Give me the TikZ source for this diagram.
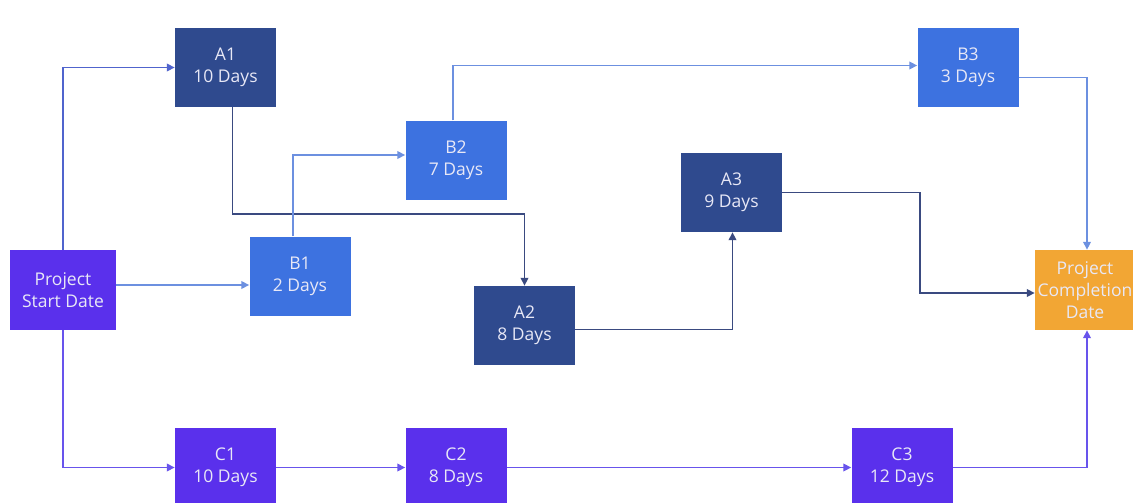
\documentclass[tikz,border=0pt]{standalone}
\usepackage{fontspec}
\setmainfont{Open Sans}
\usetikzlibrary{arrows.meta,calc}

\definecolor{navy}{RGB}{47,74,142}
\definecolor{skyblue}{RGB}{61,114,224}
\definecolor{violet}{RGB}{90,48,236}
\definecolor{amber}{RGB}{242,166,52}
\definecolor{lnnavy}{RGB}{58,74,128}
\definecolor{lnblue}{RGB}{108,144,224}
\definecolor{lnviolet}{RGB}{104,84,236}
\definecolor{lnmid}{RGB}{80,100,205}
\definecolor{boxtext}{RGB}{232,232,246}

\tikzset{
  task/.style={minimum width=101pt, minimum height=79pt, inner sep=0pt,
    text=boxtext, align=center, font=\fontsize{17.5}{22}\selectfont},
  link/.style={line width=1.8pt, -{Triangle[length=8pt,width=7.5pt]}},
}

\begin{document}
\begin{tikzpicture}[x=1pt, y=-1pt]
  \useasboundingbox (0,0) rectangle (1133,503);
  \fill[white] (0,0) rectangle (1133,503);

  % activity boxes
  \node[task, fill=violet, minimum width=106pt, minimum height=80pt] (start) at (63,290) {Project\\Start Date};
  \node[task, fill=navy] (A1) at (225.5,67.5) {A1\\10 Days};
  \node[task, fill=skyblue] (B1) at (300,276) {B1\\2 Days};
  \node[task, fill=skyblue] (B2) at (456,160) {B2\\7 Days};
  \node[task, fill=navy] (A2) at (524.5,325.5) {A2\\8 Days};
  \node[task, fill=navy] (A3) at (731.5,192.5) {A3\\9 Days};
  \node[task, fill=skyblue] (B3) at (968,67.5) {B3\\3 Days};
  \node[task, fill=amber, minimum width=100pt, minimum height=80pt, text width=100pt] (end) at (1085,290) {Project\\Completion\\Date};
  \node[task, fill=violet] (C1) at (225.5,467.5) {C1\\10 Days};
  \node[task, fill=violet] (C2) at (456,467.5) {C2\\8 Days};
  \node[task, fill=violet] (C3) at (902,467.5) {C3\\12 Days};

  % path A
  \draw[link, lnmid] (start.north) |- (A1.west);
  \draw[link, lnnavy] ($(A1.south)+(7,0)$) -- ++(0,107) -| (A2.north);
  \draw[link, lnnavy] ($(A2.east)+(0,4)$) -| ($(A3.south)+(1,0)$);
  \draw[link, lnnavy] (A3.east) -- ++(138,0) |- ($(end.west)+(0,3)$);

  % path B
  \draw[link, lnblue] ($(start.east)+(0,-5)$) -- ($(B1.west)+(0,9)$);
  \draw[link, lnblue] ($(B1.north)+(-7,0)$) |- ($(B2.west)+(0,-5)$);
  \draw[link, lnblue] ($(B2.north)+(-3,0)$) |- ($(B3.west)+(0,-2)$);
  \draw[link, lnblue] ($(B3.east)+(0,10)$) -| ($(end.north)+(2,0)$);

  % path C
  \draw[link, lnviolet] (start.south) |- (C1.west);
  \draw[link, lnviolet] (C1.east) -- (C2.west);
  \draw[link, lnviolet] (C2.east) -- (C3.west);
  \draw[link, lnviolet] (C3.east) -| ($(end.south)+(2,0)$);
\end{tikzpicture}
\end{document}
